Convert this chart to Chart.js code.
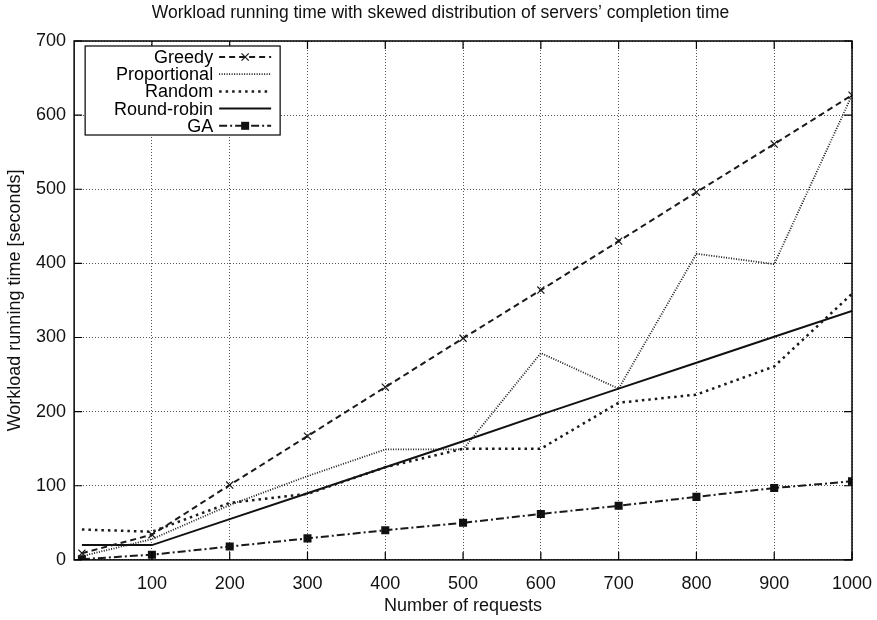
<!DOCTYPE html>
<html>
<head>
<meta charset="utf-8">
<script src="https://cdn.jsdelivr.net/npm/chart.js@4/dist/chart.umd.min.js"></script>
<style>
  html, body { margin: 0; padding: 0; background: #fff; }
  #wrap { width: 877px; height: 620px; }
</style>
</head>
<body>
<div id="wrap"><canvas id="chart" width="877" height="620"></canvas></div>
<script>
// Values (seconds)
const requests = [10, 100, 200, 300, 400, 500, 600, 700, 800, 900, 1000];
const greedy = [9, 34, 101, 167, 233, 299, 364, 430, 496, 561, 627];
const proportional = [5, 28, 74, 113, 149, 149, 279, 231, 413, 399, 627];
const random = [41, 38, 77, 89, 125, 150, 150, 212, 223, 261, 359];
const roundRobin = [20, 20, 55, 90, 125, 160, 196, 231, 266, 301, 336];
const ga = [1, 7, 18, 29, 40, 50, 62, 73, 85, 97, 106];

const xTicks = [100, 200, 300, 400, 500, 600, 700, 800, 900, 1000];
const yTicks = [0, 100, 200, 300, 400, 500, 600, 700];

const FONT = "'Liberation Sans', Arial, Helvetica, sans-serif";

const pts = arr => arr.map((v, i) => ({ x: requests[i], y: v }));

// gnuplot-style frame with inward ticks on all four sides
const framePlugin = {
  id: "frame",
  afterDatasetsDraw(chart) {
    const { ctx, chartArea: a, scales } = chart;
    ctx.save();
    ctx.strokeStyle = "#000";
    ctx.lineWidth = 1.5;
    ctx.strokeRect(a.left, a.top, a.right - a.left, a.bottom - a.top);
    ctx.lineWidth = 1.2;
    ctx.beginPath();
    xTicks.forEach(t => {
      const px = scales.x.getPixelForValue(t);
      ctx.moveTo(px, a.bottom); ctx.lineTo(px, a.bottom - 8);
      ctx.moveTo(px, a.top); ctx.lineTo(px, a.top + 8);
    });
    yTicks.forEach(t => {
      const py = scales.y.getPixelForValue(t);
      ctx.moveTo(a.left, py); ctx.lineTo(a.left + 8, py);
      ctx.moveTo(a.right, py); ctx.lineTo(a.right - 8, py);
    });
    ctx.stroke();
    ctx.restore();
  }
};

function drawMarker(ctx, style, x, y) {
  ctx.save();
  ctx.setLineDash([]);
  if (style === "crossRot") {
    const r = 3.6;
    ctx.lineWidth = 1.2;
    ctx.beginPath();
    ctx.moveTo(x - r, y - r); ctx.lineTo(x + r, y + r);
    ctx.moveTo(x - r, y + r); ctx.lineTo(x + r, y - r);
    ctx.stroke();
  } else if (style === "rect") {
    ctx.fillStyle = "#111";
    ctx.fillRect(x - 4, y - 4, 8, 8);
  }
  ctx.restore();
}

// legend box top-left, text right aligned before the line sample
const legendPlugin = {
  id: "gnuLegend",
  afterDraw(chart) {
    const { ctx, chartArea: a } = chart;
    const bx = a.left + 11, by = a.top + 5, bw = 195, bh = 89;
    ctx.save();
    ctx.fillStyle = "#fff";
    ctx.fillRect(bx, by, bw, bh);
    ctx.strokeStyle = "#000";
    ctx.lineWidth = 1.2;
    ctx.strokeRect(bx, by, bw, bh);
    ctx.font = "18px " + FONT;
    ctx.textAlign = "right";
    ctx.textBaseline = "middle";
    chart.data.datasets.forEach((ds, i) => {
      const y = by + 11 + i * 17.2;
      ctx.fillStyle = "#000";
      ctx.fillText(ds.label, bx + 128, y + 1);
      ctx.strokeStyle = ds.borderColor;
      ctx.lineWidth = ds.borderWidth;
      ctx.setLineDash(ds.borderDash || []);
      ctx.beginPath();
      ctx.moveTo(bx + 134, y);
      ctx.lineTo(bx + 186, y);
      ctx.stroke();
      if (ds.pointRadius > 0) drawMarker(ctx, ds.pointStyle, bx + 160, y);
    });
    ctx.restore();
  }
};

new Chart(document.getElementById("chart"), {
  type: "line",
  data: {
    datasets: [
      { label: "Greedy", data: pts(greedy), borderColor: "#1a1a1a", borderWidth: 2, borderDash: [6, 4],
        pointStyle: "crossRot", pointRadius: 5, pointBorderWidth: 1.2, pointBorderColor: "#1a1a1a" },
      { label: "Proportional", data: pts(proportional), borderColor: "#1a1a1a", borderWidth: 1.8, borderDash: [1, 1.5],
        pointRadius: 0 },
      { label: "Random", data: pts(random), borderColor: "#1a1a1a", borderWidth: 2.5, borderDash: [2.5, 4],
        pointRadius: 0 },
      { label: "Round-robin", data: pts(roundRobin), borderColor: "#111", borderWidth: 2,
        pointRadius: 0 },
      { label: "GA", data: pts(ga), borderColor: "#1a1a1a", borderWidth: 2, borderDash: [8, 3, 2, 3],
        pointStyle: "rect", pointRadius: 5.7, pointBackgroundColor: "#111", pointBorderColor: "#111", pointBorderWidth: 0 }
    ]
  },
  options: {
    responsive: false,
    animation: false,
    layout: { padding: { left: 4, right: 0, top: 0, bottom: 0 } },
    elements: { line: { tension: 0, fill: false } },
    plugins: {
      legend: { display: false },
      tooltip: { enabled: false },
      title: {
        display: true,
        text: "Workload running time with skewed distribution of servers\u2019 completion time",
        color: "#111",
        font: { family: FONT, size: 17.5, weight: "normal" },
        padding: { top: 3, bottom: 17 }
      }
    },
    scales: {
      x: {
        type: "linear", min: 0, max: 1000,
        afterBuildTicks: s => { s.ticks = xTicks.map(v => ({ value: v })); },
        afterFit: s => { s.paddingRight = 25; },
        ticks: { color: "#111", font: { family: FONT, size: 18 }, padding: 13, maxRotation: 0,
          callback: v => String(v) },
        grid: { color: "#555", lineWidth: 1, drawTicks: false },
        border: { display: false, dash: [1, 2] },
        title: { display: true, text: "Number of requests", color: "#111",
          font: { family: FONT, size: 18, lineHeight: 1 }, padding: { top: -10, bottom: 4.5 } }
      },
      y: {
        min: 0, max: 700,
        afterBuildTicks: s => { s.ticks = yTicks.map(v => ({ value: v })); },
        ticks: { color: "#111", font: { family: FONT, size: 18 }, padding: 8,
          callback: v => String(v) },
        grid: { color: "#555", lineWidth: 1, drawTicks: false },
        border: { display: false, dash: [1, 2] },
        title: { display: true, text: "Workload running time [seconds]", color: "#111",
          font: { family: FONT, size: 18 }, padding: { top: 0, bottom: 2.5 } }
      }
    }
  },
  plugins: [framePlugin, legendPlugin]
});
</script>
</body>
</html>
